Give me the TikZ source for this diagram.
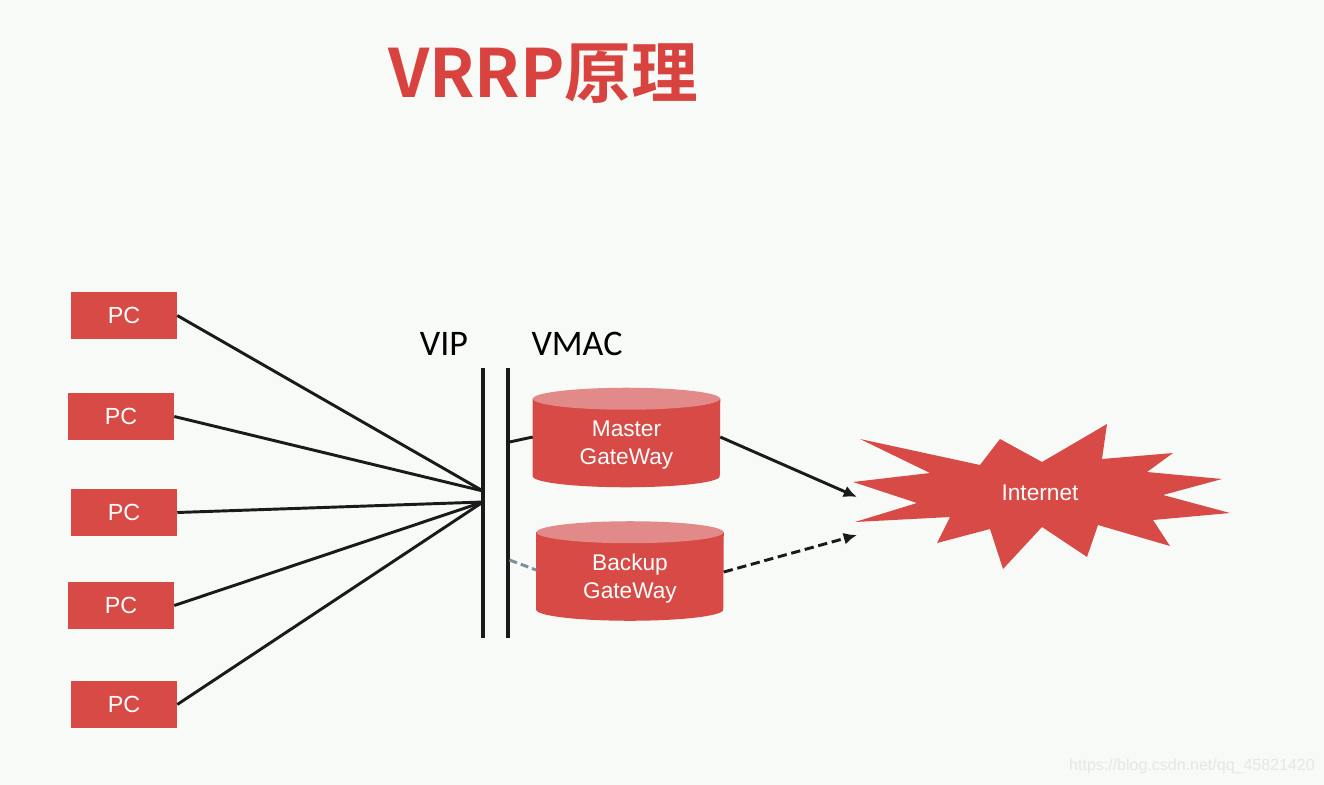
\documentclass[tikz,border=0pt]{standalone}
\usepackage{fontspec}
\setmainfont{Liberation Sans}
\newfontfamily\cjkbold[BoldFont={* Bold}]{Noto Sans CJK SC}
\newfontfamily\carlito{Carlito}
\usetikzlibrary{arrows.meta,calc}
\definecolor{bg}{HTML}{F8FAF7}
\definecolor{boxred}{HTML}{D84A45}
\definecolor{toppink}{HTML}{E28A89}
\definecolor{titlered}{HTML}{D9433F}
\definecolor{linek}{HTML}{1A1A1A}
\definecolor{wmark}{HTML}{E4E7E4}
\definecolor{bluegray}{HTML}{7F8C9C}
\tikzset{
  pcbox/.style={fill=boxred, text=white, minimum width=79.5pt, minimum height=35.25pt, inner sep=0pt, font=\fontsize{17.5}{20}\selectfont},
  cylnode/.style={minimum width=140.25pt, minimum height=74.25pt, inner sep=0pt},
  cyltext/.style={text=white, align=center, font=\fontsize{17}{21}\selectfont},
  link/.style={draw=linek, line width=2.2pt},
  bar/.style={draw=linek, line width=2.4pt},
  arr/.style={draw=linek, line width=2.2pt, -{Latex[length=10pt,width=9pt]}},
  darr/.style={arr, dash pattern=on 7pt off 3.5pt},
  viplabel/.style={font=\carlito\fontsize{27}{30}\selectfont, text=black}
}
\newcommand\drawcyl[1]{%
  \fill[boxred] ($(#1.north west)+(0,11)$) -- ($(#1.south west)+(0,-11)$)
     arc[start angle=180, end angle=0, x radius=93.5, y radius=11]
     -- ($(#1.north east)+(0,11)$) -- cycle;
  \fill[toppink] ($(#1.north)+(0,11)$) ellipse[x radius=93.5, y radius=11];
}
\begin{document}
\begin{tikzpicture}[x=0.75pt, y=-0.75pt]
\fill[bg] (0,0) rectangle (1324,785);
\useasboundingbox (0,0) rectangle (1324,785);

% title
\node[text=titlered, font=\cjkbold\bfseries\fontsize{50}{54}\selectfont, inner sep=0pt] (title) at (543,74) {VRRP原理};

% PCs
\node[pcbox] (pc1) at (124,315.5) {PC};
\node[pcbox] (pc2) at (121,416.5) {PC};
\node[pcbox] (pc3) at (124,512.5) {PC};
\node[pcbox] (pc4) at (121,605.5) {PC};
\node[pcbox] (pc5) at (124,704.5) {PC};

% bars
\coordinate (b1top) at (483,368);
\coordinate (b1bot) at (483,638);
\coordinate (b2top) at (508,368);
\coordinate (b2bot) at (508,638);
\draw[bar] (b1top) -- (b1bot);
\draw[bar] (b2top) -- (b2bot);
\coordinate (hubA) at (483,491);
\coordinate (hubB) at (483,502);

\draw[link] (pc1.east) -- (hubA);
\draw[link] (pc2.east) -- (hubA);
\draw[link] (pc3.east) -- (hubB);
\draw[link] (pc4.east) -- (hubB);
\draw[link] (pc5.east) -- (hubB);

% labels
\node[viplabel] (vip) at (444,344) {VIP};
\node[viplabel] (vmac) at (577,344) {VMAC};

% gateways
\node[cylnode] (master) at (626.5,437.5) {};
\node[cylnode] (backup) at (630,571) {};
\drawcyl{master}
\drawcyl{backup}
\node[cyltext] (mastertxt) at (626.5,445) {Master\\GateWay};
\node[cyltext] (backuptxt) at (630,578.5) {Backup\\GateWay};

\coordinate (mconn) at (509.5,442);
\coordinate (bconn) at (509.5,560);
\draw[link] (mconn) -- (master.west |- 0,437);
\draw[draw=bluegray, line width=2.2pt, dash pattern=on 6pt off 3pt] (bconn) -- (backup.west |- 0,570);

% internet star
\fill[boxred] (860,439) -- (980,465) -- (1000,439) -- (1042,462) -- (1107,424) -- (1102,459)
  -- (1173,453) -- (1147,472) -- (1222,479) -- (1163,495) -- (1230,513) -- (1153,520)
  -- (1170,546) -- (1098,525) -- (1087,557) -- (1042,527) -- (1003,569) -- (990,529)
  -- (937,543) -- (950,517) -- (855,522) -- (917,503) -- (853,482) -- (930,473) -- cycle;
\node[text=white, font=\fontsize{17}{20}\selectfont] (internet) at (1040,493) {Internet};
\coordinate (inetA) at (857,497);
\coordinate (inetB) at (857,535);

\draw[arr] (master.east |- 0,437) -- (inetA);
\draw[darr] (backup.east |- 0,572) -- (inetB);

% watermark
\node[text=wmark, font=\fontsize{12}{14}\selectfont, anchor=east, inner sep=0pt] (wm) at (1315,766) {https://blog.csdn.net/qq\_45821420};
\end{tikzpicture}
\end{document}
